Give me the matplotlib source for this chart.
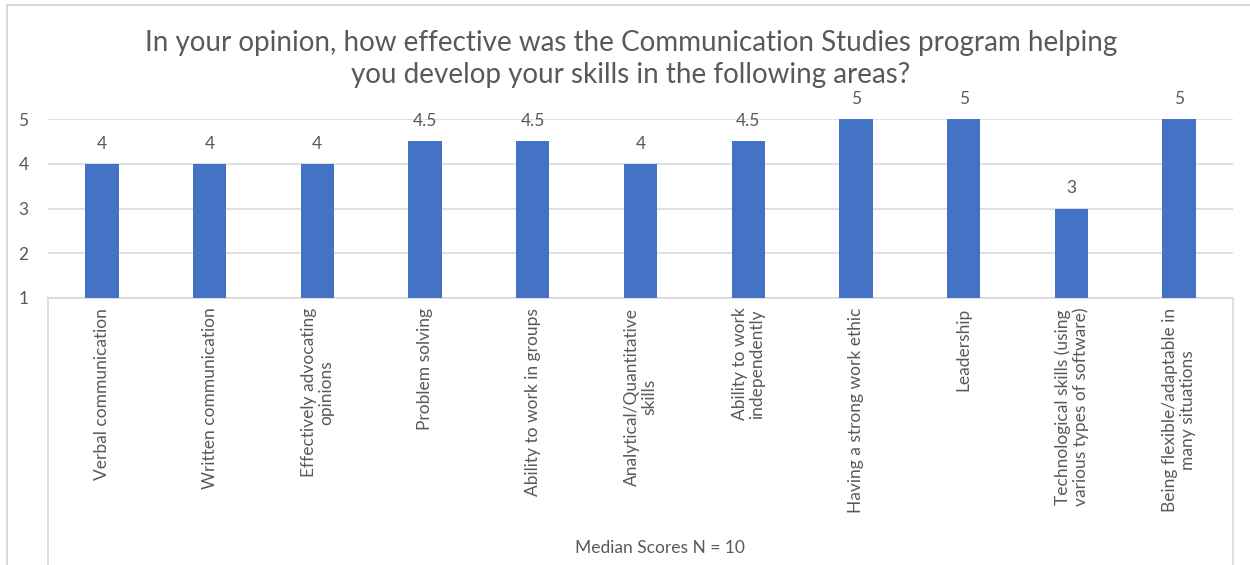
import matplotlib
matplotlib.use("Agg")
import matplotlib.pyplot as plt
from matplotlib.lines import Line2D

plt.rcParams['font.family'] = ['Lato', 'DejaVu Sans']

# survey items and median scores
skills = [
    "Verbal communication",
    "Written communication",
    "Effectively advocating\nopinions",
    "Problem solving",
    "Ability to work in groups",
    "Analytical/Quantitative\nskills",
    "Ability to work\nindependently",
    "Having a strong work ethic",
    "Leadership",
    "Technological skills (using\nvarious types of software)",
    "Being flexible/adaptable in\nmany situations",
]
medians = [4, 4, 4, 4.5, 4.5, 4, 4.5, 5, 5, 3, 5]
yticks = [1, 2, 3, 4, 5]

title = ("In your opinion, how effective was the Communication Studies program helping\n"
         "you develop your skills in the following areas?")
xtitle = "Median Scores N = 10"

grey = '#595959'
line_grey = '#d9d9d9'
W, H = 1250, 565

fig = plt.figure(figsize=(12.5, 5.65), dpi=100)
ax = fig.add_axes([48 / W, 1 - 298 / H, (1233 - 48) / W, (298 - 119) / H])

x = range(len(skills))
ax.bar(x, medians, width=0.31, bottom=0, color='#4472C4', zorder=3)
ax.set_ylim(1, 5)
ax.set_xlim(-0.5, len(skills) - 0.5)

for xi, v in zip(x, medians):
    ax.text(xi, v + 0.27, f"{v:g}", ha='center', va='bottom', fontsize=12.5,
            color=grey, clip_on=False)

ax.set_yticks(yticks)
ax.set_yticklabels([str(t) for t in yticks], fontsize=12.5, color=grey)
ax.yaxis.grid(True, color=line_grey, linewidth=1.2, zorder=0)
ax.tick_params(axis='y', length=0, pad=14)
ax.tick_params(axis='x', length=0, pad=7)
ax.set_xticks(list(x))
ax.set_xticklabels(skills, rotation=90, fontsize=12.5, color=grey, va='top',
                   ha='center', multialignment='center', linespacing=1.1)
for s in ['top', 'right', 'left']:
    ax.spines[s].set_visible(False)
ax.spines['bottom'].set_color(line_grey)
ax.spines['bottom'].set_linewidth(1.2)

# category box lines and chart border
fig.add_artist(Line2D([48 / W, 48 / W], [0, 1 - 298 / H], color=line_grey, lw=1.2))
fig.add_artist(Line2D([1233 / W, 1233 / W], [0, 1 - 298 / H], color=line_grey, lw=1.2))
fig.add_artist(Line2D([7 / W, 7 / W], [0, 1 - 5 / H], color=line_grey, lw=1.5))
fig.add_artist(Line2D([7 / W, 1], [1 - 5 / H, 1 - 5 / H], color=line_grey, lw=1.5))

fig.text(631 / W, 1 - 59 / H, title, ha='center', va='center', fontsize=20,
         color=grey, linespacing=1.32)
fig.text(660 / W, 1 - 548 / H, xtitle, ha='center', va='center', fontsize=12.5,
         color=grey)

fig.savefig('out.png', dpi=100)
